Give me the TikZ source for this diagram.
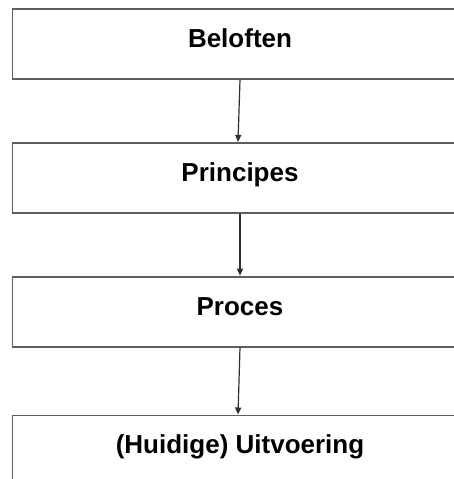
\documentclass[tikz,border=0pt]{standalone}
\usepackage{fontspec}
\setmainfont{Liberation Sans}
\usetikzlibrary{positioning,arrows.meta}
\definecolor{boxgray}{HTML}{5E5E5E}
\definecolor{arrowgray}{HTML}{2E2E2E}

\begin{document}
\begin{tikzpicture}[x=1pt, y=-1pt, node distance=62pt,
        box/.style={draw=boxgray, line width=1.8pt, minimum width=455pt, minimum height=70pt,
            text height=19pt, text depth=12pt, font=\bfseries\fontsize{26}{30}\selectfont},
        flow/.style={-{Triangle[length=7pt,width=6pt]}, draw=arrowgray, line width=1.2pt}]
        \useasboundingbox (0,0) rectangle (454,479);
        \clip (0,0) rectangle (454,479);

        \node[box] (bel) at (240,44) {Beloften};
        \node[box, below=of bel] (pri) {Principes};
        \node[box, below=of pri] (pro) {Proces};
        \node[box, below=67pt of pro] (uit) {(Huidige) Uitvoering};

        \draw[flow] (bel.south) -- ([xshift=-2pt]pri.north);
        \draw[flow] (pri.south) -- (pro.north);
        \draw[flow] (pro.south) -- ([xshift=-2pt]uit.north);
    \end{tikzpicture}
\end{document}
